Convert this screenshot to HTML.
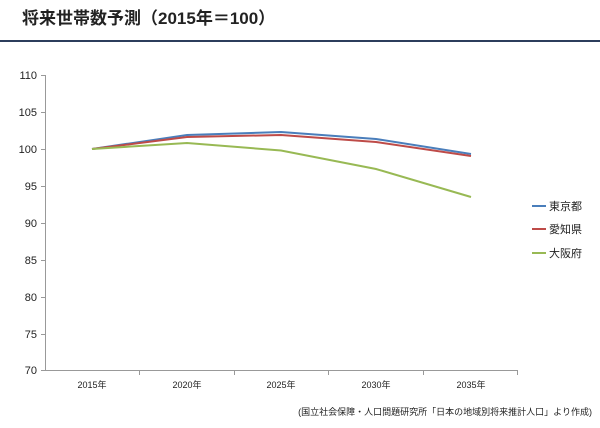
<!DOCTYPE html><html><head><meta charset="utf-8"><style>
body{margin:0;width:600px;height:423px;background:#fff;overflow:hidden;font-family:"Liberation Sans","Noto Sans CJK JP",sans-serif}
</style></head><body>
<svg width="600" height="423" xmlns="http://www.w3.org/2000/svg" font-family="Liberation Sans, Noto Sans CJK JP, sans-serif">
<text x="22" y="24" font-size="17" font-weight="bold" fill="#222">将来世帯数予測（2015年＝100）</text>
<rect x="0" y="40" width="600" height="2" fill="#2c3e5c"/>
<g stroke="#999" stroke-width="1">
<line x1="45.5" y1="75" x2="45.5" y2="370"/>
<line x1="45" y1="370.5" x2="518" y2="370.5"/>
</g>
<g stroke="#999">
<line x1="41" y1="75.5" x2="45" y2="75.5"/><line x1="41" y1="112.5" x2="45" y2="112.5"/><line x1="41" y1="149.5" x2="45" y2="149.5"/><line x1="41" y1="186.5" x2="45" y2="186.5"/><line x1="41" y1="223.5" x2="45" y2="223.5"/><line x1="41" y1="260.5" x2="45" y2="260.5"/><line x1="41" y1="297.5" x2="45" y2="297.5"/><line x1="41" y1="334.5" x2="45" y2="334.5"/><line x1="41" y1="370.5" x2="45" y2="370.5"/>
<line x1="139.5" y1="370" x2="139.5" y2="375"/><line x1="234.5" y1="370" x2="234.5" y2="375"/><line x1="328.5" y1="370" x2="328.5" y2="375"/><line x1="423.5" y1="370" x2="423.5" y2="375"/><line x1="517.5" y1="370" x2="517.5" y2="375"/>
</g>
<g font-size="11" fill="#222" text-anchor="end">
<text x="37" y="79">110</text><text x="37" y="116">105</text><text x="37" y="153">100</text><text x="37" y="190">95</text><text x="37" y="227">90</text><text x="37" y="264">85</text><text x="37" y="301">80</text><text x="37" y="338">75</text><text x="37" y="374">70</text>
</g>
<g font-size="9" fill="#222" text-anchor="middle">
<text x="92" y="388">2015年</text><text x="187" y="388">2020年</text><text x="281" y="388">2025年</text><text x="376" y="388">2030年</text><text x="471" y="388">2035年</text>
</g>
<g fill="none" stroke-width="2">
<polyline stroke="#4a7ebb" points="92,149 187,135 281,132 376,139 471,154"/>
<polyline stroke="#be4b48" points="92,149 187,137 281,135 376,142 471,156"/>
<polyline stroke="#98b954" points="92,149 187,143 281,150.5 376,169 471,197"/>
</g>
<g stroke-width="2">
<line x1="532" y1="206" x2="546" y2="206" stroke="#4a7ebb"/>
<line x1="532" y1="229" x2="546" y2="229" stroke="#be4b48"/>
<line x1="532" y1="253" x2="546" y2="253" stroke="#98b954"/>
</g>
<g font-size="11" fill="#222">
<text x="549" y="210">東京都</text><text x="549" y="233">愛知県</text><text x="549" y="257">大阪府</text>
</g>
<text x="592" y="415" font-size="9" fill="#222" text-anchor="end">(国立社会保障・人口問題研究所「日本の地域別将来推計人口」より作成)</text>
</svg>
</body></html>
